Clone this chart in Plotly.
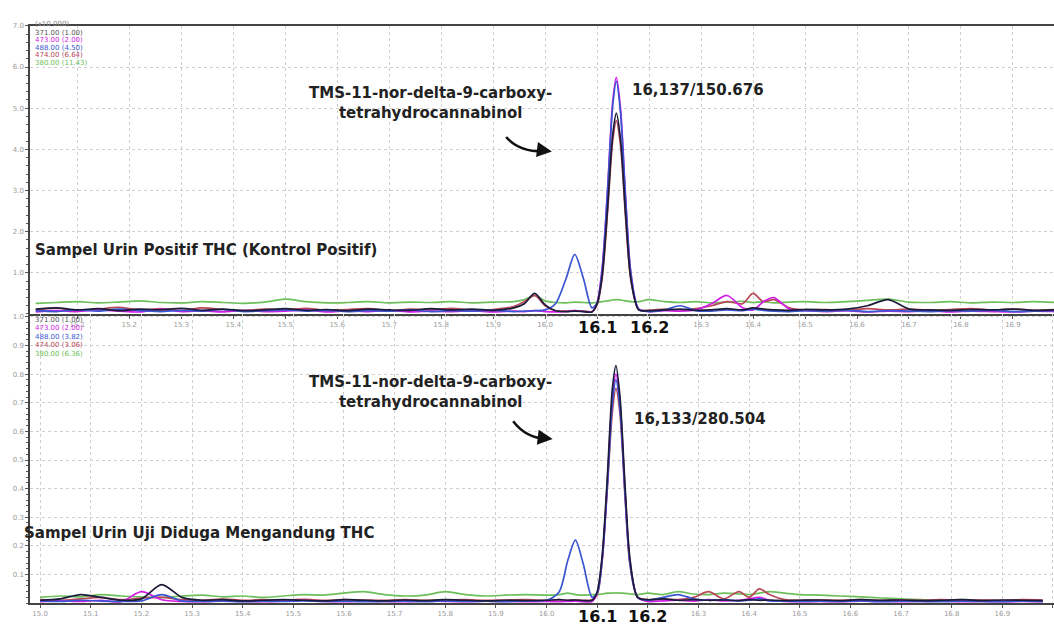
import plotly.graph_objects as go

# ---------------- DATA ----------------
# Top panel (x10,000) retention time grid
T_TOP = [15.02, 15.06, 15.10, 15.14, 15.18, 15.22, 15.26, 15.30, 15.34, 15.38, 15.42, 15.46,
         15.50, 15.54, 15.58, 15.62, 15.66, 15.70, 15.74, 15.78, 15.82, 15.86, 15.90, 15.94,
         15.96, 15.98, 16.00, 16.02, 16.04, 16.057, 16.074, 16.09,
         16.10, 16.11, 16.12, 16.13, 16.137, 16.145, 16.155, 16.165, 16.18,
         16.20, 16.23, 16.26, 16.29, 16.32, 16.35, 16.38, 16.40, 16.42, 16.44, 16.47, 16.50,
         16.54, 16.58, 16.62, 16.66, 16.70, 16.74, 16.78, 16.82, 16.86, 16.90, 16.94, 16.98]

TOP_371 = [0.12, 0.15, 0.10, 0.13, 0.08, 0.12, 0.10, 0.14, 0.09, 0.12, 0.08, 0.10,
           0.13, 0.09, 0.11, 0.08, 0.12, 0.10, 0.09, 0.13, 0.10, 0.12, 0.09, 0.15,
           0.25, 0.50, 0.22, 0.08, 0.06, 0.07, 0.06, 0.05,
           0.25, 0.95, 2.55, 4.35, 4.88, 4.25, 2.40, 0.85, 0.10,
           0.08, 0.10, 0.12, 0.09, 0.10, 0.13, 0.10, 0.15, 0.12, 0.10, 0.09, 0.11,
           0.10, 0.12, 0.20, 0.35, 0.12, 0.10, 0.09, 0.11, 0.10, 0.12, 0.09, 0.10]
TOP_473 = [0.05, 0.08, 0.06, 0.10, 0.07, 0.05, 0.12, 0.06, 0.08, 0.05, 0.09, 0.06,
           0.07, 0.10, 0.05, 0.08, 0.06, 0.09, 0.05, 0.07, 0.06, 0.08, 0.05, 0.07,
           0.06, 0.08, 0.06, 0.05, 0.06, 0.08, 0.06, 0.05,
           0.28, 1.15, 3.00, 5.15, 5.75, 5.00, 2.80, 1.00, 0.12,
           0.06, 0.08, 0.07, 0.10, 0.25, 0.45, 0.15, 0.10, 0.30, 0.40, 0.12, 0.08,
           0.06, 0.08, 0.05, 0.07, 0.06, 0.08, 0.05, 0.07, 0.06, 0.05, 0.07, 0.06]
TOP_488 = [0.08, 0.06, 0.10, 0.07, 0.12, 0.08, 0.06, 0.09, 0.07, 0.11, 0.06, 0.08,
           0.10, 0.07, 0.09, 0.06, 0.08, 0.07, 0.10, 0.06, 0.08, 0.07, 0.09, 0.06,
           0.07, 0.08, 0.10, 0.25, 0.85, 1.45, 0.85, 0.15,
           0.27, 1.10, 2.95, 5.05, 5.65, 4.90, 2.75, 0.98, 0.12,
           0.06, 0.10, 0.20, 0.08, 0.07, 0.10, 0.08, 0.12, 0.09, 0.07, 0.06, 0.08,
           0.07, 0.09, 0.06, 0.08, 0.07, 0.06, 0.08, 0.07, 0.09, 0.06, 0.07, 0.08]
TOP_474 = [0.10, 0.14, 0.08, 0.12, 0.16, 0.10, 0.13, 0.09, 0.15, 0.11, 0.08, 0.12,
           0.10, 0.14, 0.09, 0.11, 0.13, 0.08, 0.12, 0.10, 0.14, 0.09, 0.11, 0.18,
           0.30, 0.45, 0.20, 0.08, 0.07, 0.08, 0.07, 0.06,
           0.22, 0.90, 2.45, 4.20, 4.70, 4.10, 2.30, 0.82, 0.12,
           0.09, 0.12, 0.10, 0.13, 0.20, 0.30, 0.25, 0.50, 0.30, 0.35, 0.15, 0.10,
           0.11, 0.09, 0.13, 0.10, 0.12, 0.09, 0.11, 0.13, 0.10, 0.12, 0.09, 0.11]
TOP_380 = [0.26, 0.28, 0.30, 0.27, 0.29, 0.32, 0.28, 0.27, 0.30, 0.28, 0.26, 0.29,
           0.36, 0.30, 0.27, 0.28, 0.30, 0.27, 0.29, 0.28, 0.30, 0.27, 0.29, 0.30,
           0.35, 0.45, 0.32, 0.28, 0.27, 0.29, 0.28, 0.27,
           0.28, 0.30, 0.32, 0.34, 0.35, 0.34, 0.32, 0.30, 0.30,
           0.35, 0.30, 0.28, 0.30, 0.27, 0.29, 0.31, 0.28, 0.30, 0.27, 0.29, 0.30,
           0.28, 0.30, 0.33, 0.36, 0.29, 0.28, 0.30, 0.27, 0.29, 0.28, 0.30, 0.28]

# Bottom panel retention time grid
T_BOT = [15.00, 15.04, 15.08, 15.12, 15.16, 15.20, 15.24, 15.28, 15.32, 15.36, 15.40, 15.44,
         15.48, 15.52, 15.56, 15.60, 15.64, 15.68, 15.72, 15.76, 15.80, 15.84, 15.88, 15.92, 15.96,
         16.00, 16.025, 16.042, 16.057, 16.072, 16.09,
         16.10, 16.11, 16.12, 16.13, 16.137, 16.145, 16.155, 16.165, 16.18,
         16.20, 16.23, 16.26, 16.29, 16.32, 16.35, 16.38, 16.40, 16.42, 16.44, 16.47, 16.50,
         16.54, 16.58, 16.62, 16.66, 16.70, 16.74, 16.78, 16.82, 16.86, 16.90, 16.94, 16.98]

BOT_371 = [0.010, 0.015, 0.030, 0.020, 0.010, 0.015, 0.065, 0.020, 0.010, 0.012, 0.008, 0.010,
           0.012, 0.010, 0.008, 0.012, 0.010, 0.008, 0.011, 0.009, 0.012, 0.010, 0.008, 0.010, 0.009,
           0.010, 0.012, 0.010, 0.011, 0.009, 0.010,
           0.040, 0.170, 0.440, 0.750, 0.830, 0.720, 0.410, 0.150, 0.020,
           0.012, 0.015, 0.010, 0.012, 0.010, 0.011, 0.009, 0.012, 0.010, 0.011, 0.009, 0.010,
           0.011, 0.009, 0.012, 0.010, 0.011, 0.009, 0.010, 0.012, 0.009, 0.011, 0.010, 0.009]
BOT_473 = [0.005, 0.008, 0.006, 0.010, 0.005, 0.040, 0.012, 0.006, 0.005, 0.008, 0.006, 0.005,
           0.007, 0.010, 0.006, 0.005, 0.007, 0.006, 0.005, 0.008, 0.006, 0.005, 0.007, 0.006, 0.005,
           0.006, 0.005, 0.006, 0.007, 0.005, 0.006,
           0.035, 0.160, 0.420, 0.720, 0.800, 0.700, 0.390, 0.140, 0.020,
           0.006, 0.008, 0.010, 0.007, 0.012, 0.008, 0.010, 0.015, 0.020, 0.010, 0.006, 0.005,
           0.006, 0.005, 0.007, 0.006, 0.005, 0.006, 0.007, 0.005, 0.006, 0.005, 0.006, 0.005]
BOT_488 = [0.008, 0.006, 0.010, 0.007, 0.006, 0.008, 0.030, 0.008, 0.006, 0.007, 0.005, 0.007,
           0.006, 0.008, 0.006, 0.007, 0.005, 0.006, 0.007, 0.005, 0.008, 0.006, 0.007, 0.005, 0.008,
           0.010, 0.040, 0.150, 0.220, 0.140, 0.020,
           0.035, 0.155, 0.410, 0.700, 0.780, 0.680, 0.380, 0.135, 0.020,
           0.010, 0.020, 0.030, 0.015, 0.010, 0.012, 0.008, 0.010, 0.015, 0.008, 0.007, 0.006,
           0.007, 0.006, 0.008, 0.005, 0.007, 0.006, 0.005, 0.007, 0.006, 0.005, 0.007, 0.006]
BOT_474 = [0.012, 0.010, 0.015, 0.020, 0.012, 0.018, 0.020, 0.012, 0.010, 0.014, 0.010, 0.012,
           0.010, 0.013, 0.010, 0.012, 0.011, 0.010, 0.012, 0.010, 0.011, 0.012, 0.010, 0.011, 0.012,
           0.010, 0.012, 0.010, 0.011, 0.010, 0.012,
           0.030, 0.150, 0.400, 0.670, 0.750, 0.660, 0.370, 0.130, 0.020,
           0.012, 0.015, 0.012, 0.020, 0.040, 0.015, 0.040, 0.020, 0.050, 0.030, 0.012, 0.010,
           0.011, 0.010, 0.012, 0.010, 0.011, 0.010, 0.012, 0.010, 0.011, 0.010, 0.012, 0.011]
BOT_380 = [0.020, 0.025, 0.022, 0.030, 0.025, 0.022, 0.020, 0.025, 0.028, 0.022, 0.025, 0.020,
           0.025, 0.030, 0.028, 0.035, 0.040, 0.030, 0.025, 0.028, 0.040, 0.030, 0.025, 0.028, 0.030,
           0.028, 0.030, 0.035, 0.030, 0.028, 0.030,
           0.030, 0.032, 0.035, 0.035, 0.036, 0.035, 0.034, 0.032, 0.030,
           0.035, 0.030, 0.040, 0.032, 0.030, 0.035, 0.032, 0.030, 0.035, 0.040, 0.035, 0.030,
           0.028, 0.025, 0.022, 0.018, 0.015, 0.012, 0.010, 0.012, 0.010, 0.008, 0.010, 0.008]

# X tick labels (16.1 and 16.2 are shown as large bold labels instead)
X_TICKS = [15.0, 15.1, 15.2, 15.3, 15.4, 15.5, 15.6, 15.7, 15.8, 15.9, 16.0,
           16.1, 16.2, 16.3, 16.4, 16.5, 16.6, 16.7, 16.8, 16.9, 17.0]
X_TICK_TEXT = ["15.0", "15.1", "15.2", "15.3", "15.4", "15.5", "15.6", "15.7", "15.8", "15.9", "16.0",
               "", "", "16.3", "16.4", "16.5", "16.6", "16.7", "16.8", "16.9", "17.0"]
BOLD_X = [16.1, 16.2]

TOP_LEGEND = ["371.00 (1.00)", "473.00 (2.00)", "488.00 (4.50)", "474.00 (6.64)", "380.00 (11.43)"]
BOT_LEGEND = ["371.00 (1.00)", "473.00 (2.00)", "488.00 (3.82)", "474.00 (3.06)", "380.00 (6.36)"]

COLORS = {"371": "#1b1b3a", "473": "#d21ee6", "488": "#3a55d0", "474": "#b8485a", "380": "#6cbf5a"}
LEG_COLORS = ["#555555", "#d21ee6", "#3a55d0", "#b8485a", "#6cbf5a"]

# ---------------- FIGURE ----------------
fig = go.Figure()

top_series = [("380", TOP_380), ("474", TOP_474), ("473", TOP_473), ("488", TOP_488), ("371", TOP_371)]
bot_series = [("380", BOT_380), ("474", BOT_474), ("473", BOT_473), ("488", BOT_488), ("371", BOT_371)]

for key, ys in top_series:
    fig.add_trace(go.Scatter(x=T_TOP, y=ys, mode="lines", xaxis="x", yaxis="y",
                             line=dict(color=COLORS[key], width=1.7, shape="spline", smoothing=0.8),
                             showlegend=False, hoverinfo="skip"))
for key, ys in bot_series:
    fig.add_trace(go.Scatter(x=T_BOT, y=ys, mode="lines", xaxis="x2", yaxis="y2",
                             line=dict(color=COLORS[key], width=1.7, shape="spline", smoothing=0.8),
                             showlegend=False, hoverinfo="skip"))

W, H = 1054, 625
L = 30
PW = W - L
top_dom = [1 - 312 / H, 1 - 22 / H]
bot_dom = [1 - 603 / H, 1 - 312 / H]

axis_common = dict(showgrid=True, gridcolor="#cfcfcf", griddash="dot", gridwidth=1,
                   zeroline=False, showline=True, linecolor="#444", linewidth=1.5,
                   ticks="outside", ticklen=3, tickcolor="#555",
                   tickfont=dict(size=7, color="#9a9a9a", family="DejaVu Sans"))

fig.update_layout(
    width=W, height=H,
    margin=dict(l=L, r=0, t=0, b=0),
    paper_bgcolor="white", plot_bgcolor="white",
    xaxis=dict(axis_common, domain=[0, 1], range=[15.009, 16.979],
               tickvals=X_TICKS, ticktext=X_TICK_TEXT, anchor="y", mirror=True),
    yaxis=dict(axis_common, domain=top_dom, range=[0, 7.0], tickvals=[1, 2, 3, 4, 5, 6, 7],
               tickformat=".1f", anchor="x",
               minor=dict(dtick=0.2, ticklen=2, tickcolor="#555", ticks="outside", showgrid=False)),
    xaxis2=dict(axis_common, domain=[0, 1], range=[14.980, 17.002],
                tickvals=X_TICKS, ticktext=X_TICK_TEXT, anchor="y2"),
    yaxis2=dict(axis_common, domain=bot_dom, range=[0, 1.01],
                tickvals=[0.1, 0.2, 0.3, 0.4, 0.5, 0.6, 0.7, 0.8, 0.9, 1.0],
                tickformat=".1f", anchor="x2",
                minor=dict(dtick=0.02, ticklen=2, tickcolor="#555", ticks="outside", showgrid=False)),
)

ann = []
font_b = dict(family="DejaVu Sans", size=15, color="#222222", weight="bold")

def px(xpix):
    return (xpix - L) / PW

# top panel texts
ann.append(dict(x=px(430), y=5.12, xref="paper", yref="y", showarrow=False,
                text="TMS-11-nor-delta-9-carboxy-<br>tetrahydrocannabinol", font=font_b, align="center"))
ann.append(dict(x=px(630), y=5.45, xref="paper", yref="y", showarrow=False, xanchor="left",
                text="16,137/150.676", font=font_b))
ann.append(dict(x=px(33), y=1.55, xref="paper", yref="y", showarrow=False, xanchor="left",
                text="Sampel Urin Positif THC (Kontrol Positif)", font=font_b))
# bottom panel texts
ann.append(dict(x=px(430), y=0.736, xref="paper", yref="y2", showarrow=False,
                text="TMS-11-nor-delta-9-carboxy-<br>tetrahydrocannabinol", font=font_b, align="center"))
ann.append(dict(x=px(632), y=0.642, xref="paper", yref="y2", showarrow=False, xanchor="left",
                text="16,133/280.504", font=font_b))
ann.append(dict(x=px(22), y=0.246, xref="paper", yref="y2", showarrow=False, xanchor="left",
                text="Sampel Urin Uji Diduga Mengandung THC", font=font_b))

# bold 16.1 / 16.2 labels under each axis
for xa, ya in [("x", "y"), ("x2", "y2")]:
    for v in BOLD_X:
        ann.append(dict(x=v, y=0, xref=xa, yref=ya, showarrow=False, yanchor="top", yshift=-2,
                        text=f"{v:.1f}", font=dict(family="DejaVu Sans", size=16, color="#111", weight="bold")))

# arrowheads at curved arrow ends
ann.append(dict(x=16.013, y=3.95, xref="x", yref="y", ax=-8, ay=-1, showarrow=True,
                arrowhead=2, arrowsize=1.2, arrowwidth=2.5, arrowcolor="#111", text=""))
ann.append(dict(x=16.012, y=0.573, xref="x2", yref="y2", ax=-8, ay=-1, showarrow=True,
                arrowhead=2, arrowsize=1.2, arrowwidth=2.5, arrowcolor="#111", text=""))

# scale label
ann.append(dict(x=px(33), y=1 - 14 / H, xref="paper", yref="paper", showarrow=False, xanchor="left",
                text="(x10,000)", font=dict(size=7, color="#888", family="DejaVu Sans")))

# legends
for i, (t, c) in enumerate(zip(TOP_LEGEND, LEG_COLORS)):
    ann.append(dict(x=px(33), y=1 - (23 + 7.5 * i) / H, xref="paper", yref="paper", showarrow=False,
                    xanchor="left", text=t, font=dict(size=7, color=c, family="DejaVu Sans")))
for i, (t, c) in enumerate(zip(BOT_LEGEND, LEG_COLORS)):
    ann.append(dict(x=px(33), y=1 - (318 + 8.5 * i) / H, xref="paper", yref="paper", showarrow=False,
                    xanchor="left", text=t, font=dict(size=7, color=c, family="DejaVu Sans")))

fig.update_layout(annotations=ann)

# curved arrow bodies
fig.add_shape(type="path", xref="x", yref="y",
              path="M 15.925,4.3 Q 15.95,3.93 16.0,3.95",
              line=dict(color="#111", width=2.5))
fig.add_shape(type="path", xref="x2", yref="y2",
              path="M 15.934,0.635 Q 15.96,0.575 16.0,0.574",
              line=dict(color="#111", width=2.5))

fig.write_html("out.html", config={"displayModeBar": False},
               post_script="document.body.style.margin='0';document.body.style.overflow='hidden';")
